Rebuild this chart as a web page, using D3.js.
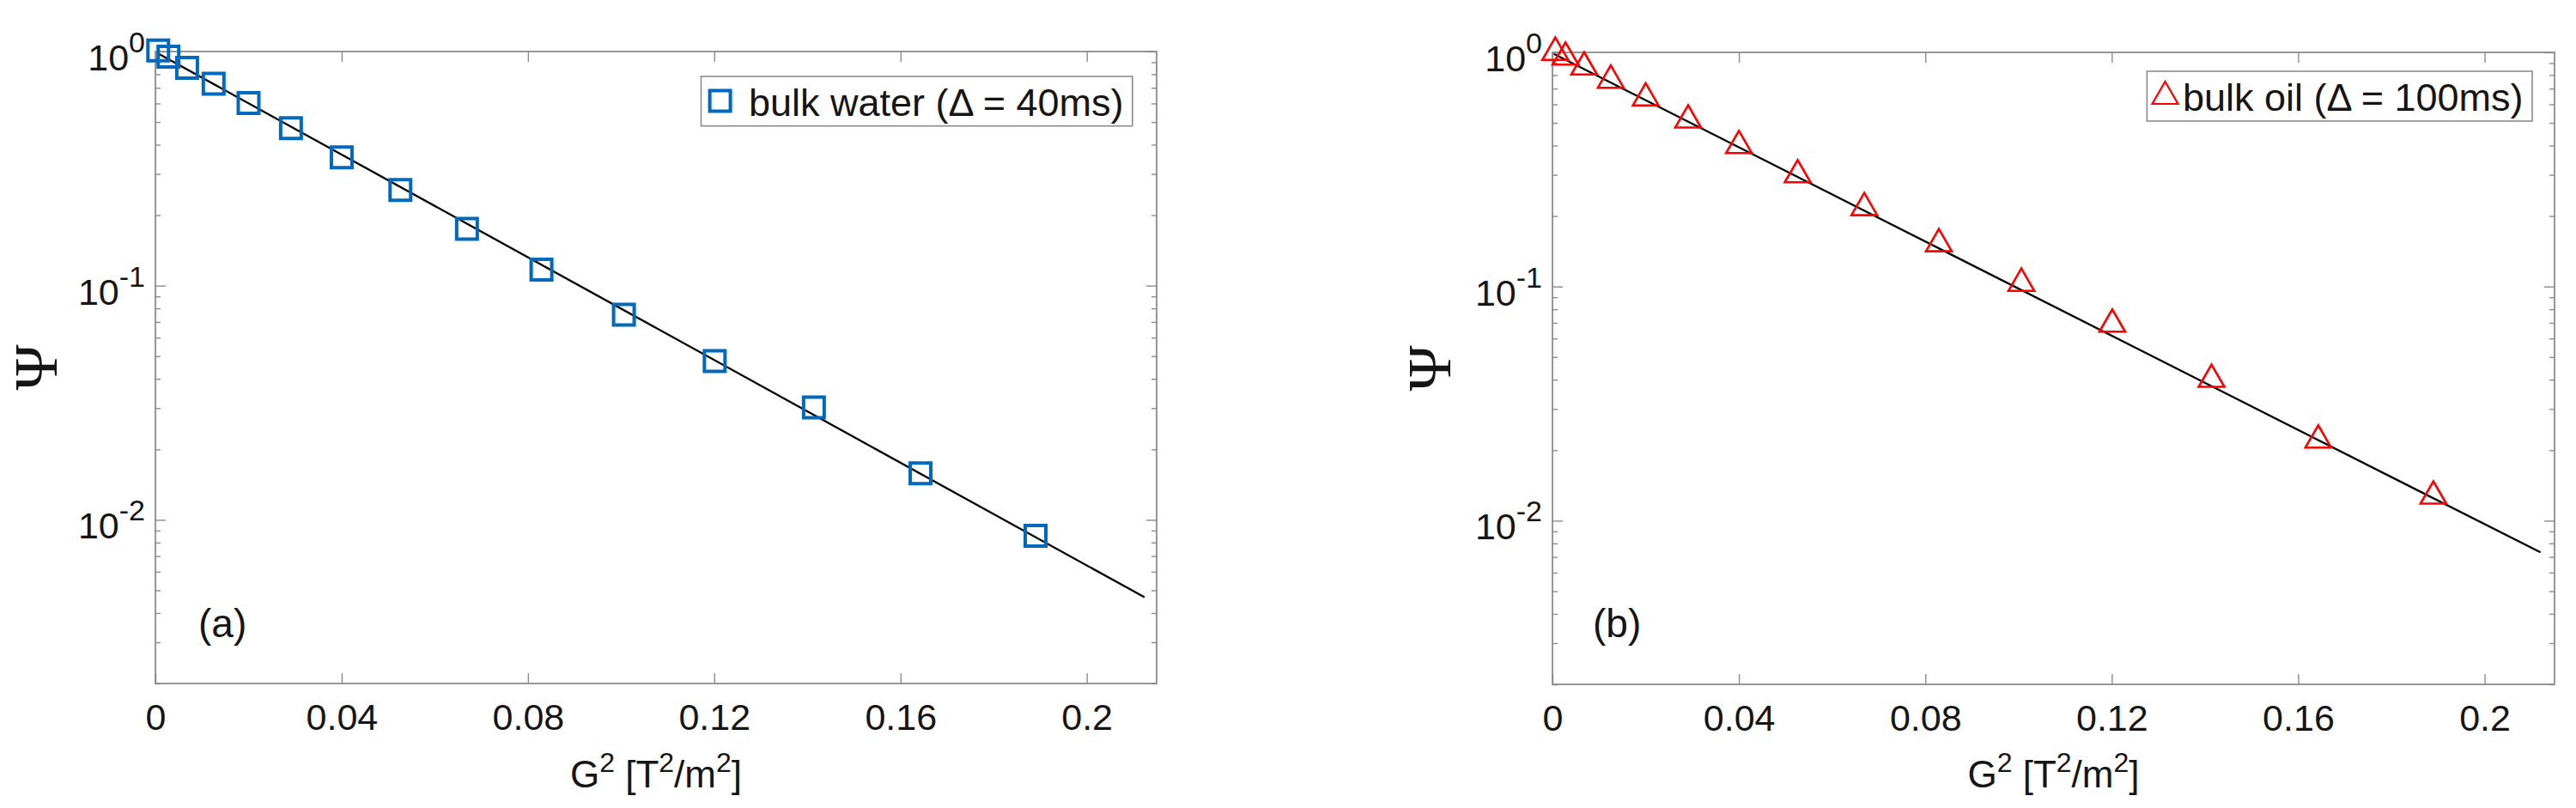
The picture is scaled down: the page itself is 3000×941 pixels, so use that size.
<!DOCTYPE html>
<html>
<head>
<meta charset="utf-8">
<script src="https://cdn.jsdelivr.net/npm/d3@7"></script>
<style>
  body { margin: 0; background: #ffffff; }
  svg { display: block; }
</style>
</head>
<body>
<svg id="chart" width="3000" height="941"></svg>
<script>
// ---------------- data ----------------
const g2Values   = [0.0006, 0.0028, 0.0068, 0.0125, 0.0200, 0.0291, 0.0400, 0.0526, 0.0669, 0.0829, 0.1006, 0.1201, 0.1414, 0.1643, 0.1890];
const psiWater   = [1.01, 0.95, 0.852, 0.729, 0.603, 0.471, 0.353, 0.256, 0.175, 0.117, 0.0751, 0.0476, 0.0302, 0.0158, 0.00855];
const psiOil     = [1.037, 0.989, 0.898, 0.788, 0.662, 0.533, 0.4145, 0.311, 0.225, 0.1578, 0.107, 0.0716, 0.0416, 0.0229, 0.0132];
const fitWaterG2  = [0.0004, 0.2124];
const fitWaterPsi = [0.986, 0.00467];
const fitOilG2    = [0.0003, 0.2120];
const fitOilPsi   = [0.986, 0.00732];

const xDomain = [0, 0.215];
const yDomain = [0.002, 1];
const xTicks = [0, 0.04, 0.08, 0.12, 0.16, 0.2];
const xTickLabels = ["0", "0.04", "0.08", "0.12", "0.16", "0.2"];
const yTicks = [1, 0.1, 0.01];
const yTickExponents = ["0", "-1", "-2"];
const yMinorTicks = [0.002, 0.003, 0.004, 0.005, 0.006, 0.007, 0.008, 0.009,
                     0.02, 0.03, 0.04, 0.05, 0.06, 0.07, 0.08, 0.09,
                     0.2, 0.3, 0.4, 0.5, 0.6, 0.7, 0.8, 0.9];
const legendLabels = ["bulk water (\u0394 = 40ms)", "bulk oil (\u0394 = 100ms)"];
const panelTags = ["(a)", "(b)"];

// ---------------- styles / layout ----------------
const FONT = "'Liberation Sans', Arial, Helvetica, sans-serif";
const SERIF = "'Liberation Serif', 'Times New Roman', serif";
const AX = "#8c8c8c";
const TXT = "#151515";
const BLUE = "#0069BC";
const RED = "#FF0000";
const PSI_SIZE = 72;

const svg = d3.select("#chart");
svg.append("rect").attr("width", 3000).attr("height", 941).attr("fill", "#fff");

const panels = [
  { l: 181, r: 1347, t: 60, b: 796, psi: psiWater, fitX: fitWaterG2, fitY: fitWaterPsi,
    marker: "square", color: BLUE, legend: legendLabels[0],
    legBox: [816.5, 89, 1318.8, 146.7], legMarker: [838.6, 117.5], legTextX: 872, legBase: 135,
    tag: panelTags[0], tagX: 231, tagBase: 742, psiX: 42 },
  { l: 1808, r: 2975, t: 61, b: 797, psi: psiOil, fitX: fitOilG2, fitY: fitOilPsi,
    marker: "triangle", color: RED, legend: legendLabels[1],
    legBox: [2500.4, 83, 2949, 141], legMarker: [2521.5, 108], legTextX: 2542, legBase: 128.5,
    tag: panelTags[1], tagX: 1855, tagBase: 742, psiX: 1665 }
];

function squarePath(cx, cy, s) {
  const h = s / 2;
  return `M${cx - h},${cy - h}H${cx + h}V${cy + h}H${cx - h}Z`;
}
function trianglePath(cx, cy, w, h) {
  return `M${cx},${cy - h / 2}L${cx + w / 2},${cy + h / 2}L${cx - w / 2},${cy + h / 2}Z`;
}
function drawMarker(g, type, cx, cy, color, legend) {
  if (type === "square") {
    g.append("path").attr("d", squarePath(cx, cy, 24))
      .attr("fill", "none").attr("stroke", color).attr("stroke-width", 4);
  } else {
    g.append("path").attr("d", trianglePath(cx, cy, 30, 26))
      .attr("fill", "none").attr("stroke", color).attr("stroke-width", legend ? 2.2 : 2.6)
      .attr("stroke-linejoin", "miter");
  }
}

function styleAxis(sel) {
  sel.select(".domain").remove();
  sel.selectAll(".tick line").attr("stroke", AX).attr("stroke-width", 1.4);
  sel.selectAll(".tick text").attr("font-size", 43).attr("font-family", FONT).attr("fill", TXT);
}

panels.forEach(p => {
  const x = d3.scaleLinear().domain(xDomain).range([p.l, p.r]);
  const y = d3.scaleLog().domain(yDomain).range([p.b, p.t]);
  const g = svg.append("g");

  // axes ticks
  g.append("g").attr("transform", `translate(0,${p.b})`)
    .call(d3.axisBottom(x).tickValues(xTicks).tickFormat((d, i) => xTickLabels[i])
      .tickSize(-12).tickSizeOuter(0).tickPadding(23))
    .call(styleAxis);
  g.append("g").attr("transform", `translate(0,${p.t})`)
    .call(d3.axisTop(x).tickValues(xTicks).tickFormat("").tickSize(-12).tickSizeOuter(0))
    .call(styleAxis);
  g.append("g").attr("transform", `translate(${p.l},0)`)
    .call(d3.axisLeft(y).tickValues(yTicks).tickFormat("").tickSize(-12).tickSizeOuter(0))
    .call(styleAxis);
  g.append("g").attr("transform", `translate(${p.l},0)`)
    .call(d3.axisLeft(y).tickValues(yMinorTicks).tickFormat("").tickSize(-6).tickSizeOuter(0))
    .call(styleAxis);
  g.append("g").attr("transform", `translate(${p.r},0)`)
    .call(d3.axisRight(y).tickValues(yTicks).tickFormat("").tickSize(-12).tickSizeOuter(0))
    .call(styleAxis);
  g.append("g").attr("transform", `translate(${p.r},0)`)
    .call(d3.axisRight(y).tickValues(yMinorTicks).tickFormat("").tickSize(-6).tickSizeOuter(0))
    .call(styleAxis);

  // box
  g.append("rect").attr("x", p.l).attr("y", p.t).attr("width", p.r - p.l).attr("height", p.b - p.t)
    .attr("fill", "none").attr("stroke", AX).attr("stroke-width", 1.8);

  // y tick labels 10^k
  yTicks.forEach((v, i) => {
    const t = g.append("text").attr("x", p.l - 12).attr("y", y(v) + 22)
      .attr("text-anchor", "end").attr("font-family", FONT).attr("font-size", 43).attr("fill", TXT);
    t.append("tspan").text("10");
    t.append("tspan").attr("font-size", 34).attr("dy", -21).text(yTickExponents[i]);
  });

  // x label
  const xl = g.append("text").attr("x", (p.l + p.r) / 2).attr("y", 917)
    .attr("text-anchor", "middle").attr("font-family", FONT).attr("font-size", 44).attr("fill", TXT);
  xl.append("tspan").text("G");
  xl.append("tspan").attr("font-size", 32).attr("dy", -18).text("2");
  xl.append("tspan").attr("dy", 18).text(" [T");
  xl.append("tspan").attr("font-size", 32).attr("dy", -18).text("2");
  xl.append("tspan").attr("dy", 18).text("/m");
  xl.append("tspan").attr("font-size", 32).attr("dy", -18).text("2");
  xl.append("tspan").attr("dy", 18).text("]");

  // y label Psi
  const cy = (p.t + p.b) / 2;
  g.append("text").attr("transform", `translate(${p.psiX},${cy}) rotate(-90)`)
    .attr("x", 0).attr("y", 0.33 * PSI_SIZE)
    .attr("text-anchor", "middle").attr("font-family", SERIF).attr("font-size", PSI_SIZE).attr("fill", TXT)
    .text("\u03A8");

  // panel tag
  g.append("text").attr("x", p.tagX).attr("y", p.tagBase)
    .attr("font-family", FONT).attr("font-size", 46).attr("fill", TXT).text(p.tag);

  // fit line
  const line = d3.line().x(d => x(d[0])).y(d => y(d[1]));
  g.append("path").attr("d", line(d3.zip(p.fitX, p.fitY)))
    .attr("fill", "none").attr("stroke", "#000").attr("stroke-width", 2.3);

  // markers
  const mk = g.append("g");
  d3.zip(g2Values, p.psi).forEach(([gx, gy]) => drawMarker(mk, p.marker, x(gx), y(gy), p.color, false));

  // legend
  const lg = g.append("g");
  const [x1, y1, x2, y2] = p.legBox;
  lg.append("rect").attr("x", x1).attr("y", y1).attr("width", x2 - x1).attr("height", y2 - y1)
    .attr("fill", "#fff").attr("stroke", AX).attr("stroke-width", 1.6);
  drawMarker(lg, p.marker, p.legMarker[0], p.legMarker[1], p.color, true);
  lg.append("text").attr("x", p.legTextX).attr("y", p.legBase)
    .attr("font-family", FONT).attr("font-size", 45).attr("fill", TXT).text(p.legend);
});
</script>
</body>
</html>
